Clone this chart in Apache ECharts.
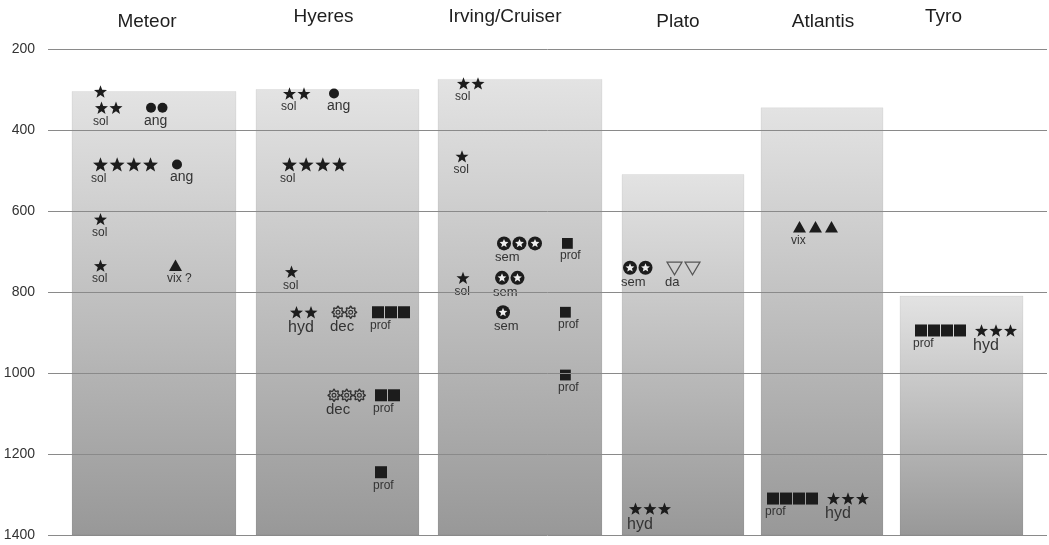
<!DOCTYPE html>
<html>
<head>
<meta charset="utf-8">
<script src="https://cdn.jsdelivr.net/npm/echarts@6/dist/echarts.min.js"></script>
<style>
  html, body { margin: 0; padding: 0; background: #fff; }
  #chart { width: 1049px; height: 545px; }
</style>
</head>
<body>
<div id="chart"></div>
<script>
// ---- Data -------------------------------------------------------------
// Seamounts, their summit depths (m); each column reaches down to the base depth.
const seamounts = ['Meteor', 'Hyeres', 'Irving/Cruiser', 'Plato', 'Atlantis', 'Tyro'];
const summitDepths = [305, 300, 275, 510, 345, 810];
const baseDepth = 1400;
const depthTicks = [200, 400, 600, 800, 1000, 1200, 1400];

// Records per seamount: [depth (m), number of marks, group, label]
const meteorObs = [
  [305, 1, 'sol', ''],
  [345, 2, 'sol', 'sol'],
  [345, 2, 'ang', 'ang'],
  [485, 4, 'sol', 'sol'],
  [485, 1, 'ang', 'ang'],
  [620, 1, 'sol', 'sol'],
  [735, 1, 'sol', 'sol'],
  [735, 1, 'vix', 'vix ?']
];
const hyeresObs = [
  [310, 2, 'sol', 'sol'],
  [310, 1, 'ang', 'ang'],
  [485, 4, 'sol', 'sol'],
  [750, 1, 'sol', 'sol'],
  [850, 2, 'hyd', 'hyd'],
  [850, 2, 'dec', 'dec'],
  [850, 3, 'prof', 'prof'],
  [1055, 3, 'dec', 'dec'],
  [1055, 2, 'prof', 'prof'],
  [1245, 1, 'prof', 'prof']
];
const irvingObs = [
  [285, 2, 'sol', 'sol'],
  [465, 1, 'sol', 'sol'],
  [680, 3, 'sem', 'sem'],
  [680, 1, 'prof', 'prof'],
  [765, 1, 'sol', 'sol'],
  [765, 2, 'sem', 'sem'],
  [850, 1, 'sem', 'sem'],
  [850, 1, 'prof', 'prof'],
  [1005, 1, 'prof', 'prof']
];
const platoObs = [
  [740, 2, 'sem', 'sem'],
  [740, 2, 'da', 'da'],
  [1335, 3, 'hyd', 'hyd']
];
const atlantisObs = [
  [640, 3, 'vix', 'vix'],
  [1310, 4, 'prof', 'prof'],
  [1310, 3, 'hyd', 'hyd']
];
const tyroObs = [
  [895, 4, 'prof', 'prof'],
  [895, 3, 'hyd', 'hyd']
];
const observations = [meteorObs, hyeresObs, irvingObs, platoObs, atlantisObs, tyroObs];

// ---- Layout -----------------------------------------------------------
// Column left edge and width in x-axis units (1 unit = 1 px of plot width).
const colLeft = [24, 208, 390, 574, 713, 852];
const colWidth = [164, 163, 164, 122, 122, 123];
// Title nudges (px) relative to the column centre, and title rows.
const titleDx = [-7, -14, -15, -5, 1, -18];
const titleY = [22, 17, 17, 22, 22, 17];
// Horizontal slot of each record inside its column: [offset from column left, mark scale]
const layouts = [
  [[22, 1], [23, 1], [74, 1], [21, 1.15], [100, 1], [22, 1], [22, 1], [97, 1]],
  [[27, 1], [73, 1], [26, 1.15], [29, 1], [34, 1], [76, 1], [116, 1], [72, 1], [119, 1], [119, 1]],
  [[19, 1], [17.5, 1], [59, 1], [124, 0.9], [18.5, 1], [57, 1], [58, 1], [122, 0.9], [122, 0.9]],
  [[1, 1], [45, 1], [7, 1]],
  [[32, 1], [6, 1], [66, 1]],
  [[15, 1], [75, 1]]
];

// ---- Styles -----------------------------------------------------------
const FONT = '"Liberation Sans", Arial, Helvetica, sans-serif';
const markKind = { sol: 'star', hyd: 'star', ang: 'dot', vix: 'tri', da: 'triDown', sem: 'ring', dec: 'gear', prof: 'square' };
const markStyle = {
  star: { size: 13, pitch: 14.5 },
  dot: { size: 10, pitch: 11.5 },
  tri: { size: 13, pitch: 16 },
  triDown: { size: 15, pitch: 18 },
  ring: { size: 14, pitch: 15.5 },
  gear: { size: 12, pitch: 12.7 },
  square: { size: 12, pitch: 13 }
};
const labelSize = { sol: 12, hyd: 16, ang: 14, vix: 12, da: 13, sem: 13, dec: 15, prof: 12 };
const INK = '#1c1c1c';

// Flatten records for the marks series.
const flat = [];
observations.forEach((list, si) => {
  list.forEach((o, oi) => {
    const lay = layouts[si][oi];
    flat.push({ si, depth: o[0], count: o[1], group: o[2], label: o[3], dx: lay[0], scale: lay[1] });
  });
});

function starPoints(cx, cy, r, ratio) {
  const pts = [];
  cy += r * 0.095;
  for (let k = 0; k < 10; k++) {
    const rr = k % 2 ? r * ratio : r;
    const a = -Math.PI / 2 + k * Math.PI / 5;
    pts.push([cx + rr * Math.cos(a), cy + rr * Math.sin(a)]);
  }
  return pts;
}

function makeMark(kind, cx, cy, size) {
  const h = size / 2;
  switch (kind) {
    case 'star':
      return { type: 'polygon', shape: { points: starPoints(cx, cy, h / 0.951, 0.42) }, style: { fill: INK } };
    case 'dot':
      return { type: 'circle', shape: { cx, cy, r: h }, style: { fill: INK } };
    case 'tri':
      return { type: 'polygon', shape: { points: [[cx, cy - h * 0.95], [cx + h, cy + h * 0.8], [cx - h, cy + h * 0.8]] }, style: { fill: INK } };
    case 'triDown':
      return { type: 'polygon', shape: { points: [[cx - h, cy - h * 0.75], [cx + h, cy - h * 0.75], [cx, cy + h * 0.95]] }, style: { fill: 'none', stroke: '#555', lineWidth: 1.2 } };
    case 'ring':
      return {
        type: 'group', children: [
          { type: 'circle', shape: { cx, cy, r: h }, style: { fill: INK } },
          { type: 'polygon', shape: { points: starPoints(cx, cy - 0.3, h * 0.66, 0.45) }, style: { fill: '#eeeeee' } }
        ]
      };
    case 'gear': {
      const pts = [];
      for (let k = 0; k < 16; k++) {
        const rr = k % 2 ? h * 0.7 : h;
        const a = k * Math.PI / 8;
        pts.push([cx + rr * Math.cos(a), cy + rr * Math.sin(a)]);
      }
      return {
        type: 'group', children: [
          { type: 'polygon', shape: { points: pts, smooth: 0.35 }, style: { fill: 'none', stroke: '#333', lineWidth: 1.4 } },
          { type: 'circle', shape: { cx, cy, r: h * 0.32 }, style: { fill: 'none', stroke: '#333', lineWidth: 1.2 } }
        ]
      };
    }
    case 'square':
      return { type: 'rect', shape: { x: cx - h, y: cy - h, width: size, height: size }, style: { fill: INK } };
  }
}

function renderColumn(params, api) {
  const i = params.dataIndex;
  const top = api.coord([colLeft[i], api.value(1)]);
  const bottom = api.coord([colLeft[i] + colWidth[i], baseDepth]);
  const cx = (top[0] + bottom[0]) / 2;
  return {
    type: 'group',
    children: [
      {
        type: 'rect',
        shape: { x: top[0], y: top[1], width: bottom[0] - top[0], height: bottom[1] - top[1] },
        style: {
          fill: {
            type: 'linear', x: 0, y: 0, x2: 0, y2: 1,
            colorStops: [{ offset: 0, color: '#e3e3e3' }, { offset: 1, color: '#989898' }]
          },
          stroke: 'rgba(0,0,0,0.05)', lineWidth: 1
        }
      },
      {
        type: 'text',
        style: {
          x: cx + titleDx[i], y: titleY[i], text: seamounts[i],
          fill: '#1e1e1e', fontSize: 19, fontFamily: FONT,
          align: 'center', verticalAlign: 'middle'
        }
      }
    ]
  };
}

function renderMarks(params, api) {
  const f = flat[params.dataIndex];
  const p = api.coord([api.value(0), api.value(1)]);
  const kind = markKind[f.group];
  const st = markStyle[kind];
  const size = st.size * f.scale;
  const pitch = st.pitch * f.scale;
  const children = [];
  for (let k = 0; k < f.count; k++) {
    children.push(makeMark(kind, p[0] + size / 2 + k * pitch, p[1], size));
  }
  if (f.label) {
    children.push({
      type: 'text',
      style: {
        x: p[0] - 2, y: p[1] + size / 2 + 1, text: f.label,
        fill: '#333', fontSize: labelSize[f.group], fontFamily: FONT,
        align: 'left', verticalAlign: 'top'
      }
    });
  }
  return { type: 'group', children };
}

const chart = echarts.init(document.getElementById('chart'), null, { renderer: 'canvas' });
chart.setOption({
  animation: false,
  backgroundColor: '#ffffff',
  grid: { left: 48, right: 2, top: 49, bottom: 10, containLabel: false, outerBoundsMode: 'none' },
  xAxis: { type: 'value', min: 0, max: 999, show: false },
  yAxis: {
    type: 'value', inverse: true,
    min: depthTicks[0], max: depthTicks[depthTicks.length - 1],
    interval: depthTicks[1] - depthTicks[0],
    z: 10,
    axisLine: { show: false },
    axisTick: { show: false },
    axisLabel: { color: '#333', fontSize: 14, margin: 13, fontFamily: FONT, formatter: v => String(v) },
    splitLine: { show: true, lineStyle: { color: '#8a8a8a', width: 1 } }
  },
  series: [
    {
      type: 'custom',
      name: 'columns',
      renderItem: renderColumn,
      data: summitDepths.map((d, i) => [i, d]),
      z: 1,
      silent: true
    },
    {
      type: 'custom',
      name: 'records',
      renderItem: renderMarks,
      data: flat.map(f => [colLeft[f.si] + f.dx, f.depth]),
      z: 3,
      silent: true
    }
  ]
});
</script>
</body>
</html>
